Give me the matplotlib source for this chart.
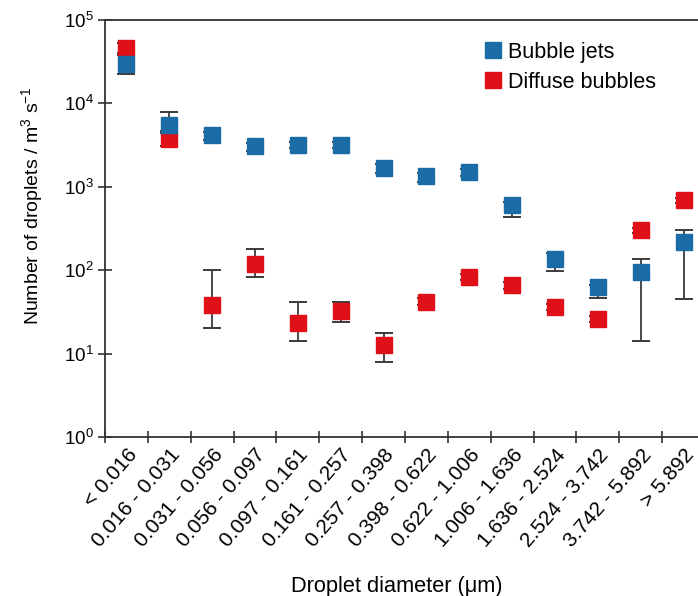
import numpy as np
import matplotlib
matplotlib.use('Agg')
import matplotlib.pyplot as plt
from matplotlib.ticker import FixedLocator, NullLocator

plt.rcParams['font.family'] = ['Liberation Sans', 'DejaVu Sans']
plt.rcParams['mathtext.fontset'] = 'custom'
plt.rcParams['mathtext.rm'] = 'Liberation Sans'
plt.rcParams['mathtext.it'] = 'Liberation Sans'
plt.rcParams['mathtext.default'] = 'regular'

categories = ['< 0.016', '0.016 - 0.031', '0.031 - 0.056', '0.056 - 0.097',
              '0.097 - 0.161', '0.161 - 0.257', '0.257 - 0.398', '0.398 - 0.622',
              '0.622 - 1.006', '1.006 - 1.636', '1.636 - 2.524', '2.524 - 3.742',
              '3.742 - 5.892', '> 5.892']

# Bubble jets
jets = [30000, 5500, 4200, 3100, 3200, 3150, 1700, 1330, 1520, 600, 135, 63, 95, 220]
jets_hi = [38000, 7900, 4600, 3350, 3450, 3400, 1900, 1450, 1650, 650, 160, 66, 135, 300]
jets_lo = [22500, 4700, 3600, 2700, 2950, 2900, 1450, 1150, 1350, 430, 98, 47, 14, 45]

# Diffuse bubbles
diffuse = [46000, 3700, 38, 120, 23, 32, 12.7, 42, 83, 66, 36, 26, 300, 690]
diffuse_hi = [53000, 4450, 100, 178, 42, 42, 17.5, 46, 90, 72, 39, 28, 320, 740]
diffuse_lo = [40500, 3100, 20, 83, 14, 24, 8, 38, 76, 60, 33, 24, 280, 640]

blue = '#1b6ca6'
red = '#e01019'
fs = 15.5

fig = plt.figure(figsize=(6.98, 5.96), dpi=100)
ax = fig.add_axes([105 / 698, 159 / 596, 600 / 698, 417 / 596])

x = np.arange(len(categories))

# error bars underneath, markers on top
for vals, lo, hi in [(diffuse, diffuse_lo, diffuse_hi), (jets, jets_lo, jets_hi)]:
    v = np.array(vals, dtype=float)
    err = [v - np.array(lo), np.array(hi) - v]
    ax.errorbar(x, v, yerr=err, fmt='none', ecolor='#3a3a3a', elinewidth=1.3,
                capsize=6.7, capthick=1.4, zorder=3)

ax.plot(x, diffuse, 's', color=red, markersize=11.5, zorder=4, label='Diffuse bubbles')
ax.plot(x, jets, 's', color=blue, markersize=11.5, zorder=5, label='Bubble jets')

ax.set_yscale('log')
ax.set_ylim(1, 1e5)
ax.set_xlim(-0.5, 13.5)
ax.yaxis.set_major_locator(FixedLocator([1, 10, 100, 1000, 1e4, 1e5]))
ax.yaxis.set_minor_locator(NullLocator())
ax.set_yticklabels(['$10^{%d}$' % i for i in range(6)])

ax.set_xticks(x)
ax.set_xticklabels(categories, rotation=49, ha='right', va='top',
                   rotation_mode='anchor')
ax.xaxis.set_minor_locator(FixedLocator(np.arange(-0.5, 14, 1.0)))
ax.tick_params(axis='x', which='major', length=0, pad=6, labelsize=15)
ax.tick_params(axis='x', which='minor', direction='inout', length=8, width=1.2,
               color='#333333')
ax.tick_params(axis='y', which='major', direction='inout', length=10, width=1.2,
               color='#333333', labelsize=13.5, pad=3)

for s in ['left', 'bottom', 'top']:
    ax.spines[s].set_linewidth(1.3)
    ax.spines[s].set_color('#333333')
ax.spines['right'].set_visible(False)

ax.set_ylabel('Number of droplets / m$^3$ s$^{-1}$', fontsize=14)
ax.yaxis.set_label_coords(-0.100, 0.556)
ax.set_xlabel('Droplet diameter (\u03bcm)', fontsize=15.7, va='top')
ax.xaxis.set_label_coords(0.487, -0.333)

handles, labels = ax.get_legend_handles_labels()
ax.legend(handles[::-1], labels[::-1], loc='upper left',
          bbox_to_anchor=(482 / 698, 1 - 42 / 596), bbox_transform=fig.transFigure,
          frameon=False, fontsize=fs, handlelength=1.0, handletextpad=0.2,
          borderpad=0, borderaxespad=0, labelspacing=0.4)

fig.savefig('out.png', dpi=100)
